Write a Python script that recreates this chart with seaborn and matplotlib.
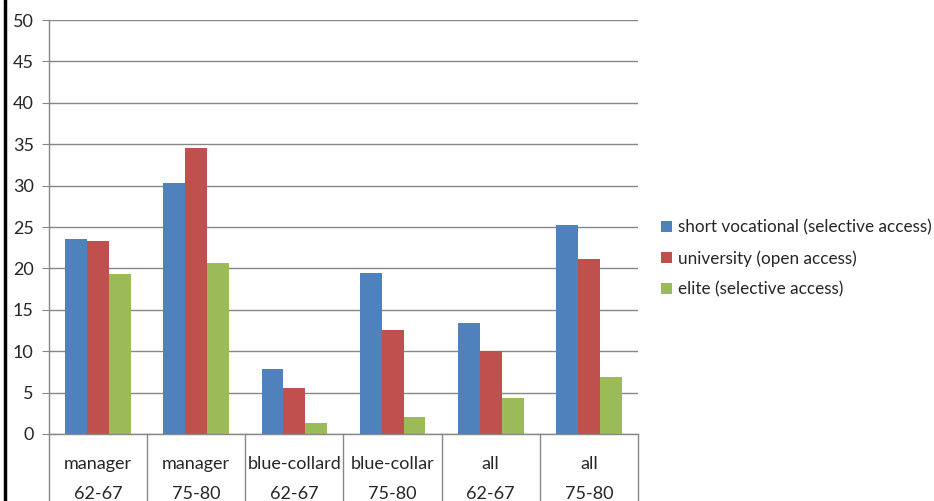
import pandas as pd
import matplotlib.pyplot as plt
import seaborn as sns
from matplotlib.lines import Line2D

# values
groups = ['manager\n62-67', 'manager\n75-80', 'blue-collard\n62-67',
          'blue-collar\n75-80', 'all\n62-67', 'all\n75-80']
series = ['short vocational (selective access)', 'university (open access)',
          'elite (selective access)']
short_vocational = [23.5, 30.3, 7.8, 19.5, 13.4, 25.3]
university = [23.3, 34.5, 5.5, 12.6, 10.0, 21.1]
elite = [19.3, 20.6, 1.3, 2.1, 4.4, 6.9]
colors = ['#4F81BD', '#C0504D', '#9BBB59']

df = pd.DataFrame({
    'group': groups * 3,
    'series': [series[0]] * 6 + [series[1]] * 6 + [series[2]] * 6,
    'value': short_vocational + university + elite,
})

sns.set_style('white')
plt.rcParams['font.family'] = ['Lato', 'DejaVu Sans']

fig = plt.figure(figsize=(9.34, 5.01), dpi=100)
ax = fig.add_axes([49 / 934, 67 / 501, 589 / 934, 414 / 501])

sns.barplot(data=df, x='group', y='value', hue='series', order=groups,
            hue_order=series, palette=colors, width=0.67, linewidth=0,
            saturation=1, ax=ax)

ax.set_xlim(-0.5, 5.5)
ax.set_ylim(0, 50)
ax.set_yticks(range(0, 51, 5))
ax.set_xlabel('')
ax.set_ylabel('')
ax.yaxis.grid(True, color='#878787', linewidth=1)
ax.set_axisbelow(True)
for s in ['top', 'right']:
    ax.spines[s].set_visible(False)
for s in ['left', 'bottom']:
    ax.spines[s].set_color('#878787')
    ax.spines[s].set_linewidth(1)

ax.tick_params(axis='y', left=True, length=5, color='#878787', labelsize=13,
               pad=6)
ax.tick_params(axis='x', bottom=False, labelsize=13, pad=12)
for lbl in ax.get_xticklabels():
    lbl.set_linespacing(2.1)

# category separators below the axis
trans = ax.get_xaxis_transform()
for xb in [i - 0.5 for i in range(7)]:
    ax.plot([xb, xb], [0, -0.17], transform=trans, color='#878787',
            linewidth=1, clip_on=False)

leg = ax.legend(loc='center left', bbox_to_anchor=(1.027, 0.424), frameon=False,
                fontsize=12.3, handlelength=0.65, handleheight=0.65,
                handletextpad=0.35, labelspacing=0.85, borderaxespad=0)

# thick black line at the left edge
fig.add_artist(Line2D([5 / 934, 5 / 934], [0, 1], color='black',
                      linewidth=2.5, transform=fig.transFigure))

fig.savefig('out.png', dpi=100)
